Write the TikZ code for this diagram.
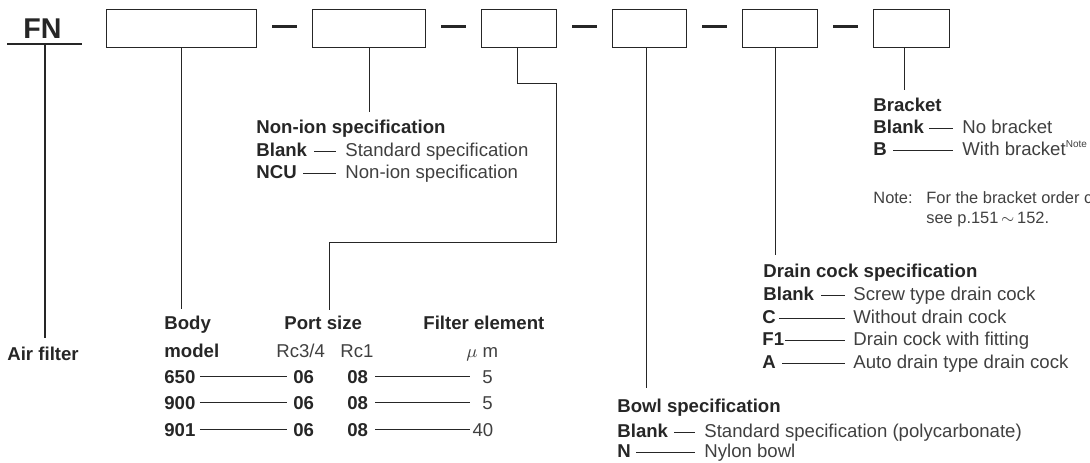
\documentclass[tikz,border=0pt]{standalone}
\usepackage{fontspec}
\setmainfont{Liberation Sans}
\definecolor{ink}{HTML}{262626}
\definecolor{txt}{HTML}{404040}

\begin{document}
\begin{tikzpicture}[
    x=0.5pt, y=-0.5pt,
    every node/.style={inner sep=0pt, anchor=base west, text=txt,
        font=\fontsize{9.3}{11}\selectfont},
    key/.style={text=ink, font=\fontsize{9.3}{11}\selectfont\bfseries},
    small/.style={font=\fontsize{8.2}{10}\selectfont},
    box/.style={draw=ink, line width=0.65pt, anchor=north west, minimum height=19pt},
    link/.style={draw=ink, line width=0.6pt},
    sep/.style={draw=ink, line width=1.1pt, shorten <=7.5pt, shorten >=7.7pt},
    dashto/.style={link, shorten >=4.5pt}
]
\useasboundingbox (0,0) rectangle (1090,462);
\clip (0,0) rectangle (1090,462);

% Code boxes
\node[key, font=\fontsize{14.3}{16}\selectfont\bfseries] (fn) at (23,38) {FN};
\node[box, minimum width=75pt] (b1) at (106,9) {};
\node[box, minimum width=56.5pt] (b2) at (312,9) {};
\node[box, minimum width=37.5pt] (b3) at (481,9) {};
\node[box, minimum width=37pt] (b4) at (612,9) {};
\node[box, minimum width=37.5pt] (b5) at (742,9) {};
\node[box, minimum width=38pt] (b6) at (873,9) {};

\foreach \a/\b in {b1/b2, b2/b3, b3/b4, b4/b5, b5/b6}
  \draw[sep] ([yshift=1.1pt]\a.east) -- ([yshift=1.1pt]\b.west);

% Air filter
\coordinate (fnbar) at (45,44);
\draw[link] (7,44) -- (82,44);
\node[key] (air) at (7,360) {Air filter};
\draw[link, shorten >=4pt] (fnbar) -- (fnbar |- air.north);

% Body model, port size, filter element
\node[key] (body) at (164,329) {Body};
\node[key] (model) at (164,357) {model};
\node[key] (port) at (284,329) {Port size};
\node (rc34) at (276,357) {Rc3/4};
\node (rc1) at (340,357) {Rc1};
\node[key] (filt) at (423,329) {Filter element};
\node (um) at (466,357) {$\mu$ m};

\foreach \y/\m/\f in {383/650/5, 409/900/5, 436/901/40} {
  \node[key] (m\m) at (164,\y) {\m};
  \node[key] (p\m) at (293,\y) {06};
  \node[key] (q\m) at (347,\y) {08};
  \node[anchor=base east, text width=10pt, align=right] (e\m) at (493,\y) {\f};
  \draw[link, shorten <=2pt, shorten >=3pt] (m\m) -- (p\m);
  \draw[link, shorten <=3.5pt, shorten >=1pt] (q\m.east) -- (q\m.east -| e\m.west);
}

\draw[link, shorten >=3.3pt] (b1.south) -- (b1.south |- body.north);
\draw[link, shorten >=2.8pt] ([xshift=-0.75pt]b3.south) -- ++(0,35) -- ++(39,0)
  -- ++(0,159) -| ([xshift=3pt]port.north);

% Non-ion specification
\node[key] (nonion) at (256,133) {Non-ion specification};
\node[key] (nblank) at (256,156) {Blank};
\node (nstd) at (345,156) {Standard specification};
\node[key] (ncu) at (256,178) {NCU};
\node (nncu) at (345,178) {Non-ion specification};
\draw[link, shorten >=3.7pt] (b2.south) -- (b2.south |- nonion.north);
\foreach \k/\d/\s in {nblank/nstd/3.5, ncu/nncu/3}
  \draw[dashto, shorten <=\s pt] ([yshift=2.4pt]\k.base east) -- ([yshift=2.4pt]\d.base west);

% Bowl specification
\node[key] (bowl) at (617,412) {Bowl specification};
\node[key] (bblank) at (617,437) {Blank};
\node (bstd) at (704,437) {Standard specification (polycarbonate)};
\node[key] (bn) at (617,457) {N};
\node (bny) at (704,457) {Nylon bowl};
\draw[link, shorten >=5pt] ([xshift=-1.5pt]b4.south) -- ([xshift=-1.5pt]b4.south |- bowl.north);
\foreach \k/\d/\s in {bblank/bstd/3, bn/bny/2.5}
  \draw[dashto, shorten <=\s pt] ([yshift=2.4pt]\k.base east) -- ([yshift=2.4pt]\d.base west);

% Drain cock specification
\node[key] (drain) at (763,277) {Drain cock specification};
\node[key] (dblank) at (763,300) {Blank};
\node (dscrew) at (853,300) {Screw type drain cock};
\node[key] (dc) at (762,323) {C};
\node (dwo) at (853,323) {Without drain cock};
\node[key] (df) at (762,345) {F1};
\node (dfit) at (853,345) {Drain cock with fitting};
\node[key] (da) at (762,368) {A};
\node (dauto) at (853,368) {Auto drain type drain cock};
\draw[link, shorten >=4.2pt] ([xshift=-2.25pt]b5.south) -- ([xshift=-2.25pt]b5.south |- drain.north);
\foreach \k/\d/\s in {dblank/dscrew/3.5, dc/dwo/1.5, df/dfit/0.2, da/dauto/3}
  \draw[link, shorten <=\s pt, shorten >=4pt] ([yshift=2.4pt]\k.base east) -- ([yshift=2.4pt]\d.base west);

% Bracket
\node[key] (brk) at (873,111) {Bracket};
\node[key] (kblank) at (873,133) {Blank};
\node (kno) at (962,133) {No bracket};
\node[key] (kb) at (873,155) {B};
\node (kwith) at (962,155) {With bracket\raisebox{4pt}{\fontsize{5}{5}\selectfont Note}};
\draw[link, shorten >=3.7pt] ([xshift=-3.5pt]b6.south) -- ([xshift=-3.5pt]b6.south |- brk.north);
\foreach \k/\d/\s in {kblank/kno/2.5, kb/kwith/3}
  \draw[dashto, shorten <=\s pt] ([yshift=2.4pt]\k.base east) -- ([yshift=2.4pt]\d.base west);

% Note
\node[small] (note) at (873,203) {Note:};
\node[small] (notea) at (926,203) {For the bracket order code,};
\node[small] (noteb) at (926,223) {see p.151\,$\sim$\,152.};
\end{tikzpicture}
\end{document}
